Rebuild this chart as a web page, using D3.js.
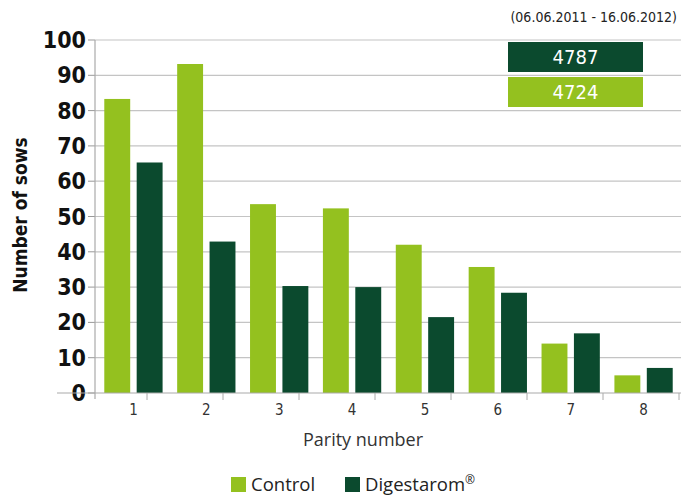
<!DOCTYPE html>
<html><head><meta charset="utf-8">
<script src="https://cdn.jsdelivr.net/npm/d3@7/dist/d3.min.js"></script>
<style>body{margin:0;background:#fff}svg{display:block}</style>
</head><body>
<svg id="c" width="681" height="497"></svg>
<script>
const categories = ["1","2","3","4","5","6","7","8"];
const control = [83.3, 93.2, 53.5, 52.3, 42, 35.7, 14, 5];
const digestarom = [65.3, 42.9, 30.3, 30, 21.5, 28.4, 16.9, 7.1];
const yTicks = [0,10,20,30,40,50,60,70,80,90,100];
const seriesNames = ["Control", "Digestarom®"];
const totals = ["4787", "4724"];
const dateRange = "(06.06.2011 - 16.06.2012)";

const cLight = "#94c11f", cDark = "#0b4a2e", grid = "#c4c4c4";
const svg = d3.select("#c");
const x0 = 97, x1 = 680, yTop = 40, yBot = 393;
const x = d3.scaleBand().domain(categories).range([x0, x1]).paddingInner(0.2).paddingOuter(0.1);
const xs = d3.scaleBand().domain([0,1]).range([0, x.bandwidth()]).paddingInner(0.2);
const y = d3.scaleLinear().domain([0,100]).range([yBot, yTop]);

// gridlines
svg.append("g").selectAll("line").data(yTicks.filter(d=>d>0)).join("line")
  .attr("x1", 95).attr("x2", 681).attr("y1", d=>y(d)).attr("y2", d=>y(d))
  .attr("stroke", grid).attr("stroke-width", 1.2);
// y tick marks
svg.append("g").selectAll("line").data(yTicks).join("line")
  .attr("x1", 88).attr("x2", 95).attr("y1", d=>y(d)).attr("y2", d=>y(d))
  .attr("stroke", "#999").attr("stroke-width", 1);
// y labels
svg.append("g").selectAll("text").data(yTicks).join("text")
  .attr("x", 86).attr("y", d=>y(d)+8).attr("text-anchor","end")
  .attr("font-family","'Liberation Sans Narrow','DejaVu Sans Condensed',sans-serif")
  .attr("font-weight","bold").attr("font-size",23).attr("fill","#111")
  .text(d=>d);

// bars
const vals = [control, digestarom], cols = [cLight, cDark];
vals.forEach((arr, s) => {
  svg.append("g").selectAll("rect").data(arr).join("rect")
    .attr("x", (d,i)=>x(categories[i]) + xs(s))
    .attr("width", xs.bandwidth())
    .attr("y", d=>y(d)).attr("height", d=>yBot - y(d))
    .attr("fill", cols[s]);
});

// axes lines
svg.append("line").attr("x1",57).attr("x2",681).attr("y1",yBot).attr("y2",yBot).attr("stroke","#aaa").attr("stroke-width",1.2);
svg.append("line").attr("x1",95).attr("x2",95).attr("y1",yTop).attr("y2",399).attr("stroke","#aaa").attr("stroke-width",1.2);
// x tick marks
const xt = d3.scalePoint().domain(categories).range([147, 679]);
svg.append("g").selectAll("line").data(categories).join("line")
  .attr("x1", d=>xt(d)).attr("x2", d=>xt(d)).attr("y1", yBot).attr("y2", 400)
  .attr("stroke","#aaa").attr("stroke-width",1);
// x labels
svg.append("g").selectAll("text").data(categories).join("text")
  .attr("x", d=>x(d)+x.bandwidth()/2).attr("y", 415).attr("text-anchor","middle")
  .attr("font-family","'DejaVu Sans Condensed','Liberation Sans Narrow',sans-serif")
  .attr("font-size",15).attr("fill","#333").attr("font-weight","300")
  .text(d=>d);

// axis titles
svg.append("text").attr("transform","translate(27,215) rotate(-90)").attr("text-anchor","middle")
  .attr("font-family","'DejaVu Sans Condensed',sans-serif").attr("font-weight","bold")
  .attr("font-size",19).attr("fill","#111").text("Number of sows");
svg.append("text").attr("x",363).attr("y",446).attr("text-anchor","middle")
  .attr("font-family","'Open Sans',sans-serif").attr("font-size",18).attr("fill","#333")
  .text("Parity number");

// legend
const leg = [{x:231, c:cLight, t:seriesNames[0]}, {x:345, c:cDark, t:seriesNames[1]}];
leg.forEach(l=>{
  svg.append("rect").attr("x",l.x).attr("y",477).attr("width",15).attr("height",15).attr("fill",l.c);
  const t = svg.append("text").attr("x",l.x+20).attr("y",491).attr("font-family","'Open Sans',sans-serif")
    .attr("font-size",18.5).attr("fill","#222");
  const parts = l.t.split("®");
  t.append("tspan").text(parts[0]);
  if (parts.length > 1) {
    t.append("tspan").attr("font-size",12).attr("dy",-7).text("®");
  }
});

// date range & totals
svg.append("text").attr("x",677).attr("y",22).attr("text-anchor","end")
  .attr("font-family","'Liberation Sans Narrow','DejaVu Sans Condensed',sans-serif")
  .attr("font-size",14).attr("fill","#222").text(dateRange);
[{y:42, c:cDark, t:totals[0]}, {y:77, c:cLight, t:totals[1]}].forEach(b=>{
  svg.append("rect").attr("x",508).attr("y",b.y).attr("width",135).attr("height",30).attr("fill",b.c);
  svg.append("text").attr("x",575.5).attr("y",b.y+22).attr("text-anchor","middle")
    .attr("font-family","'Liberation Sans Narrow','DejaVu Sans Condensed',sans-serif")
    .attr("font-size",20).attr("fill","#fff").text(b.t);
});
</script>
</body></html>
